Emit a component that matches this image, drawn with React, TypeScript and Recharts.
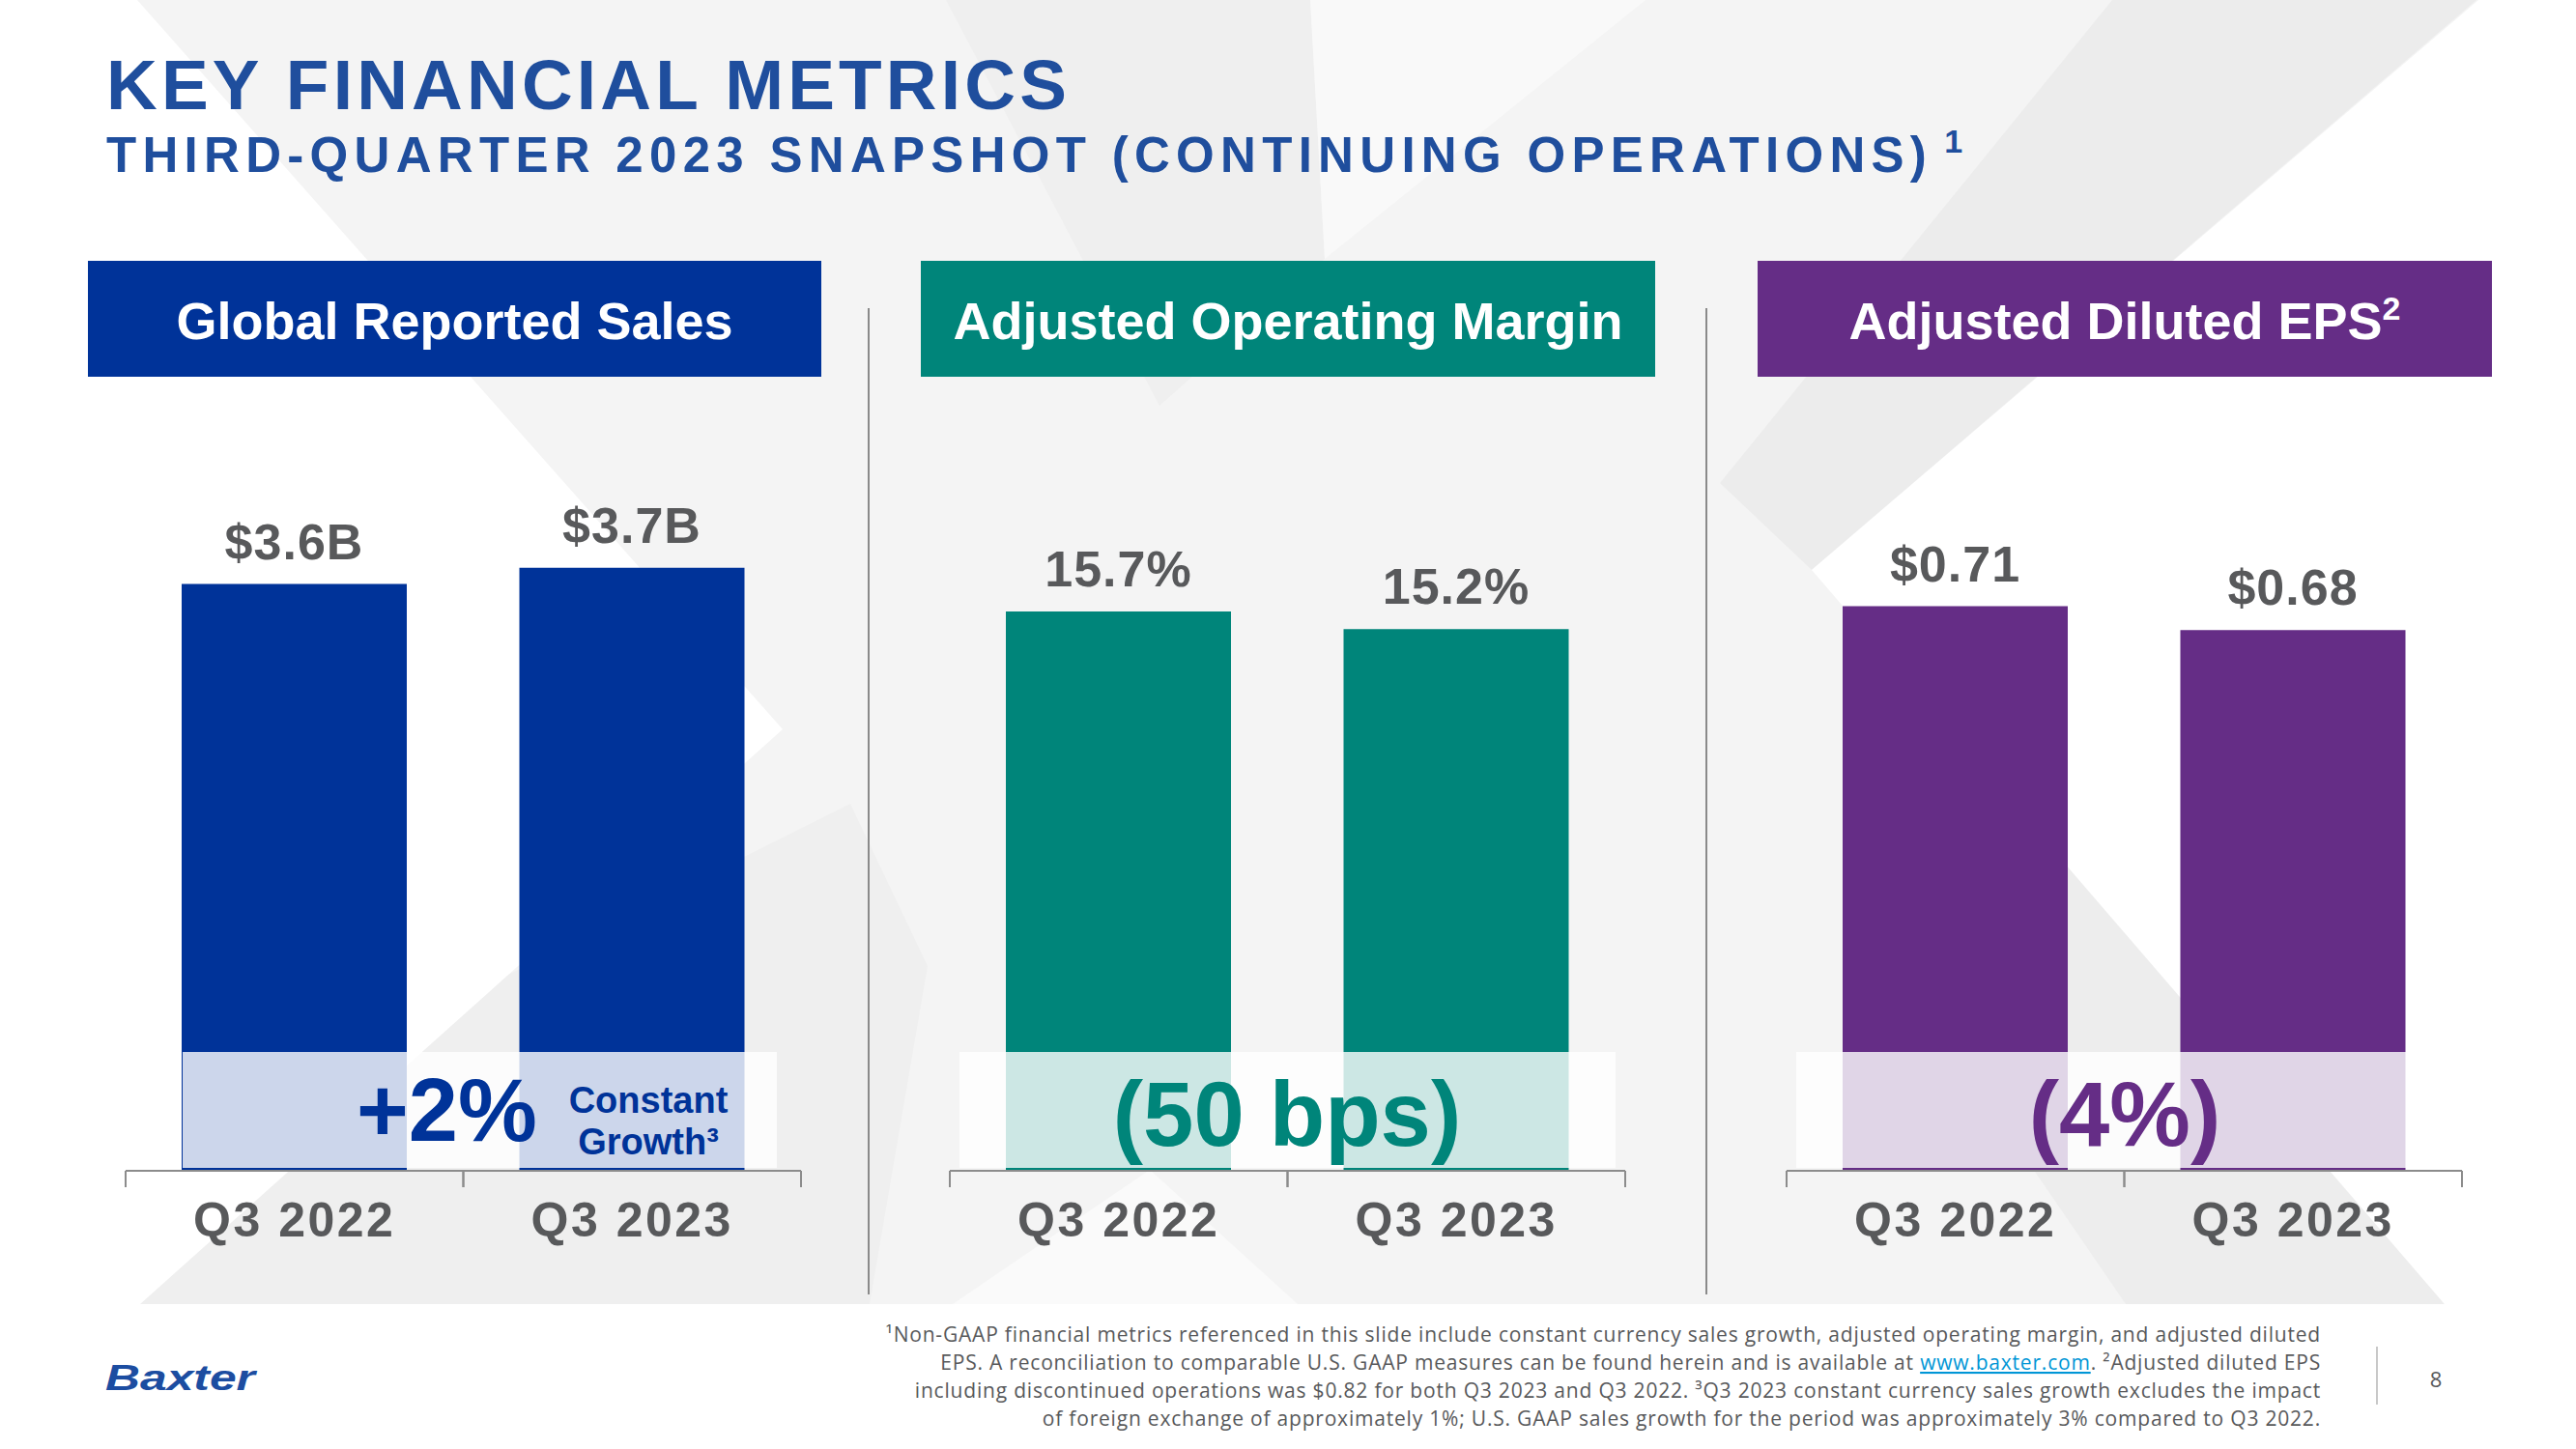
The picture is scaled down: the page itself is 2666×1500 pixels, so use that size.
import React from 'react';
import { BarChart, Bar, XAxis, YAxis, LabelList } from 'recharts';

// ---------- data ----------
const categories = ['Q3 2022', 'Q3 2023'];
const salesValues = [3.6, 3.7];
const salesLabels = ['$3.6B', '$3.7B'];
const marginValues = [15.7, 15.2];
const marginLabels = ['15.7%', '15.2%'];
const epsValues = [0.71, 0.68];
const epsLabels = ['$0.71', '$0.68'];
const panelTitles = ['Global Reported Sales', 'Adjusted Operating Margin', 'Adjusted Diluted EPS'];
const changeTexts = ['+2%', '(50 bps)', '(4%)'];

// ---------- layout / style ----------
const FONT = "'Liberation Sans', Arial, sans-serif";
const FOOT_FONT = "'Open Sans', 'Liberation Sans', sans-serif";
const AXIS = '#8C8C8C';
const LABEL_GRAY = '#58595B';
const TITLE_BLUE = '#1F4E9D';
const PLOT_W = 699;
const PLOT_TOP = 537;
const PLOT_BOTTOM = 1212;
const M_TOP = 80;
const M_SIDE = 20;
const X_H = 110;
const CHART_W = PLOT_W + 2 * M_SIDE;
const CHART_H = M_TOP + (PLOT_BOTTOM - PLOT_TOP) + X_H;
const BAND = PLOT_W / categories.length;

const panels = [
  { axisLeft: 130, color: '#003399', values: salesValues, labels: salesLabels, max: 4, box: [91, 850], tint: [189, 804] },
  { axisLeft: 983, color: '#00857A', values: marginValues, labels: marginLabels, max: 18.3, box: [953, 1713], tint: [993, 1672] },
  { axisLeft: 1849, color: '#652D86', values: epsValues, labels: epsLabels, max: 0.82, box: [1819, 2579], tint: [1859, 2538] },
];

function BoundaryTick(props: any) {
  const { x, y, payload } = props;
  const half = BAND / 2;
  return (
    <g>
      <line x1={x - half} y1={y} x2={x - half} y2={y + 17} stroke={AXIS} strokeWidth={2} />
      <line x1={x + half} y1={y} x2={x + half} y2={y + 17} stroke={AXIS} strokeWidth={2} />
      <text x={x} y={y + 68} textAnchor="middle" fill={LABEL_GRAY} fontSize={50} fontWeight={700} fontFamily={FONT} letterSpacing={2.5}>
        {payload.value}
      </text>
    </g>
  );
}

function Panel({ p }: { p: any }) {
  const data = categories.map((c, i) => ({ category: c, value: p.values[i], label: p.labels[i] }));
  return (
    <div style={{ position: 'absolute', left: p.axisLeft - M_SIDE, top: PLOT_TOP - M_TOP }}>
      <BarChart width={CHART_W} height={CHART_H} data={data} margin={{ top: M_TOP, right: M_SIDE, bottom: 0, left: M_SIDE }}>
        <XAxis
          dataKey="category"
          height={X_H}
          tickSize={0}
          tickMargin={0}
          interval={0}
          axisLine={{ stroke: AXIS, strokeWidth: 2 }}
          tickLine={false}
          tick={(tp: any) => <BoundaryTick {...tp} />}
        />
        <YAxis hide domain={[0, p.max]} />
        <Bar dataKey="value" fill={p.color} barSize={233} isAnimationActive={false}>
          <LabelList dataKey="label" position="top" offset={26} fill={LABEL_GRAY} fontSize={52} fontWeight={700} fontFamily={FONT} letterSpacing={1} />
        </Bar>
      </BarChart>
    </div>
  );
}

export default function App() {
  return (
    <div style={{ position: 'relative', width: 2666, height: 1500, background: '#FFFFFF', overflow: 'hidden', fontFamily: FONT }}>
      <style>{'body{margin:0;}'}</style>
      {/* background & static text */}
      <svg width={2666} height={1500} style={{ position: 'absolute', left: 0, top: 0 }}>
        <rect x={0} y={0} width={2666} height={1350} fill="#F4F4F4" />
        {/* watermark chevrons */}
        <polygon points="979,0 1356,0 1371,268 1200,420" fill="#EFEFEF" />
        <polygon points="2186,0 2563,0 1875,590 1780,500" fill="#ECECEC" />
        <polygon points="422,1061 880,832 960,1000 900,1350 110,1350" fill="#EFEFEF" />
        <polygon points="1960,1000 2140,890 2530,1350 2200,1350" fill="#EDEDED" />
        <polygon points="1356,0 1703,0 1371,268" fill="#F9F9F9" />
        <polygon points="986,1350 1190,1211 1343,1350" fill="#FAFAFA" />
        <polygon points="0,0 142,0 810,755 145,1350 0,1350" fill="#FFFFFF" />
        <polygon points="1875,590 2565,0 2666,0 2666,1350 2530,1350" fill="#FFFFFF" />

        {/* title */}
        <text x={110} y={113} fill={TITLE_BLUE} fontSize={73} fontWeight={700} letterSpacing={4.2} fontFamily={FONT}>KEY FINANCIAL METRICS</text>
        <text x={110} y={178} fill={TITLE_BLUE} fontSize={51} fontWeight={700} letterSpacing={6.3} fontFamily={FONT}>
          THIRD-QUARTER 2023 SNAPSHOT (CONTINUING OPERATIONS)
          <tspan fontSize={34} dy={-20} dx={12} letterSpacing={0}>1</tspan>
        </text>

        {/* header boxes */}
        {panels.map((p, i) => (
          <g key={'box' + i}>
            <rect x={p.box[0]} y={270} width={p.box[1] - p.box[0]} height={120} fill={p.color} />
            <text x={(p.box[0] + p.box[1]) / 2} y={351} textAnchor="middle" fill="#FFFFFF" fontSize={54} fontWeight={700} fontFamily={FONT}>
              {panelTitles[i]}
              {i === 2 ? <tspan fontSize={34} dy={-20}>2</tspan> : null}
            </text>
          </g>
        ))}

        {/* dividers */}
        <line x1={899} y1={319} x2={899} y2={1340} stroke="#8A8A8A" strokeWidth={2} />
        <line x1={1766} y1={319} x2={1766} y2={1340} stroke="#8A8A8A" strokeWidth={2} />

        {/* footer */}
        <text x={109} y={1439} fill="#1C4DA1" fontSize={36} fontWeight={700} fontStyle="italic" fontFamily={FONT} textLength={155} lengthAdjust="spacingAndGlyphs">Baxter</text>
        <g fill={LABEL_GRAY} fontSize={21} fontFamily={FOOT_FONT} textAnchor="end" letterSpacing={0.8}>
          <text x={2402} y={1389}>¹Non-GAAP financial metrics referenced in this slide include constant currency sales growth, adjusted operating margin, and adjusted diluted</text>
          <text x={2402} y={1418}>
            EPS. A reconciliation to comparable U.S. GAAP measures can be found herein and is available at{' '}
            <tspan fill="#0096D6" textDecoration="underline">www.baxter.com</tspan>. ²Adjusted diluted EPS
          </text>
          <text x={2402} y={1447}>including discontinued operations was $0.82 for both Q3 2023 and Q3 2022. ³Q3 2023 constant currency sales growth excludes the impact</text>
          <text x={2402} y={1476}>of foreign exchange of approximately 1%; U.S. GAAP sales growth for the period was approximately 3% compared to Q3 2022.</text>
        </g>
        <line x1={2460} y1={1394} x2={2460} y2={1454} stroke="#C8C8C8" strokeWidth={2} />
        <text x={2521} y={1436} textAnchor="middle" fill={LABEL_GRAY} fontSize={22} fontFamily={FOOT_FONT}>8</text>
      </svg>

      {panels.map((p, i) => (
        <Panel key={'panel' + i} p={p} />
      ))}

      {/* overlay bands & change annotations */}
      <svg width={2666} height={1500} style={{ position: 'absolute', left: 0, top: 0, pointerEvents: 'none' }}>
        {panels.map((p, i) => (
          <rect key={'tint' + i} x={p.tint[0]} y={1089} width={p.tint[1] - p.tint[0]} height={120} fill="#FFFFFF" fillOpacity={0.8} />
        ))}
        <text x={369} y={1181} fill={panels[0].color} fontSize={92} fontWeight={700} fontFamily={FONT}>{changeTexts[0]}</text>
        <text x={671} y={1152} textAnchor="middle" fill={panels[0].color} fontSize={38} fontWeight={700} fontFamily={FONT}>Constant</text>
        <text x={671} y={1195} textAnchor="middle" fill={panels[0].color} fontSize={38} fontWeight={700} fontFamily={FONT}>Growth³</text>
        <text x={1332} y={1186} textAnchor="middle" fill={panels[1].color} fontSize={94} fontWeight={700} fontFamily={FONT}>{changeTexts[1]}</text>
        <text x={2199} y={1186} textAnchor="middle" fill={panels[2].color} fontSize={94} fontWeight={700} fontFamily={FONT}>{changeTexts[2]}</text>
      </svg>
    </div>
  );
}
